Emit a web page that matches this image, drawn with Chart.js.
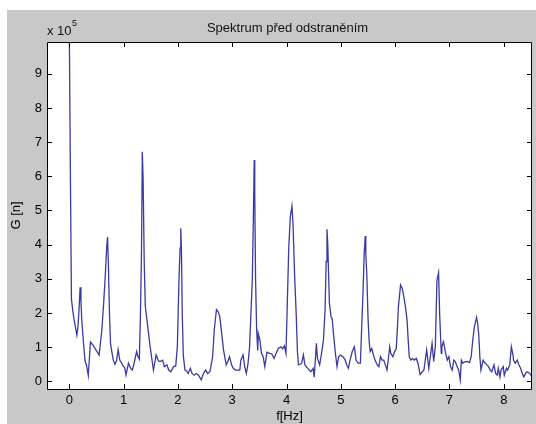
<!DOCTYPE html>
<html><head><meta charset="utf-8">
<script src="https://cdn.jsdelivr.net/npm/chart.js@4.4.1/dist/chart.umd.min.js"></script>
<style>html,body{margin:0;padding:0;background:#fff;}#wrap{width:536px;height:424px;position:relative}</style>
</head><body><div id="wrap"><canvas id="c" width="536" height="424"></canvas></div>
<script>
// Data (amplitude in units of 10^5)
const freqs = [0.00,0.02,0.04,0.07,0.10,0.14,0.16,0.18,0.20,0.215,0.23,0.26,0.29,0.32,0.35,0.39,0.44,0.50,0.55,0.60,0.63,0.66,0.69,0.705,0.72,0.74,0.76,0.79,0.81,0.84,0.87,0.90,0.93,0.96,0.99,1.02,1.045,1.09,1.13,1.16,1.19,1.24,1.26,1.29,1.31,1.33,1.345,1.36,1.38,1.40,1.43,1.49,1.55,1.60,1.64,1.67,1.72,1.75,1.80,1.83,1.87,1.92,1.96,1.99,2.02,2.04,2.053,2.065,2.08,2.10,2.13,2.16,2.19,2.23,2.26,2.30,2.34,2.38,2.43,2.47,2.51,2.55,2.59,2.64,2.67,2.71,2.74,2.77,2.80,2.84,2.89,2.92,2.95,2.99,3.02,3.06,3.10,3.14,3.16,3.20,3.23,3.26,3.29,3.32,3.34,3.37,3.39,3.405,3.415,3.43,3.45,3.47,3.48,3.51,3.54,3.57,3.60,3.64,3.69,3.73,3.77,3.81,3.85,3.90,3.93,3.96,3.99,4.01,4.04,4.07,4.10,4.12,4.15,4.18,4.20,4.22,4.25,4.28,4.31,4.34,4.39,4.42,4.45,4.49,4.51,4.55,4.57,4.61,4.65,4.68,4.71,4.73,4.745,4.76,4.79,4.82,4.84,4.87,4.90,4.93,4.96,4.99,5.04,5.08,5.11,5.14,5.17,5.21,5.25,5.28,5.32,5.36,5.38,5.41,5.43,5.45,5.46,5.48,5.50,5.52,5.54,5.57,5.60,5.63,5.67,5.70,5.73,5.76,5.79,5.82,5.85,5.88,5.90,5.92,5.96,5.99,6.02,6.04,6.06,6.10,6.13,6.16,6.19,6.22,6.24,6.26,6.29,6.32,6.35,6.39,6.42,6.46,6.53,6.58,6.62,6.68,6.71,6.74,6.77,6.80,6.82,6.85,6.86,6.89,6.93,6.96,6.99,7.02,7.05,7.08,7.11,7.14,7.17,7.20,7.22,7.25,7.28,7.33,7.37,7.40,7.43,7.46,7.50,7.52,7.54,7.56,7.58,7.62,7.65,7.69,7.72,7.75,7.78,7.82,7.85,7.88,7.90,7.93,7.95,7.99,8.01,8.05,8.07,8.11,8.14,8.17,8.18,8.21,8.25,8.28,8.31,8.34,8.37,8.40,8.43,8.48,8.52];
const ampsE5 = [10.5,6.2,2.4,2.0,1.7,1.35,1.6,2.1,2.75,2.35,1.8,1.15,0.6,0.45,0.17,1.15,1.05,0.9,0.77,1.5,2.2,3.0,3.95,4.22,3.45,2.0,1.1,0.8,0.62,0.5,0.6,0.93,0.62,0.55,0.45,0.4,0.18,0.53,0.38,0.33,0.5,0.87,0.75,0.65,1.9,3.8,6.72,5.9,3.5,2.2,1.8,1.0,0.33,0.77,0.6,0.58,0.62,0.43,0.48,0.33,0.28,0.43,0.45,1.0,2.96,3.9,4.48,3.9,2.0,0.75,0.33,0.3,0.23,0.38,0.23,0.18,0.23,0.18,0.04,0.23,0.33,0.23,0.28,0.72,1.5,2.1,2.04,1.9,1.5,0.92,0.48,0.58,0.72,0.48,0.38,0.33,0.33,0.33,0.62,0.77,0.43,0.23,0.5,1.0,1.8,2.96,4.8,6.48,5.5,3.0,1.5,0.9,1.4,1.2,0.82,0.72,0.43,0.85,0.82,0.8,0.67,0.82,0.97,1.01,0.95,1.04,0.82,1.99,3.84,4.82,5.13,4.6,3.06,1.9,0.9,0.48,0.5,0.53,0.77,0.48,0.38,0.33,0.28,0.38,0.12,1.11,0.67,0.48,0.87,1.21,2.08,3.5,4.45,3.99,2.28,1.89,1.84,1.3,0.82,0.43,0.72,0.77,0.72,0.62,0.48,0.38,0.62,0.87,1.01,0.62,0.53,0.53,1.4,2.67,3.74,4.25,3.74,3.06,1.89,1.21,0.87,0.96,0.77,0.62,0.48,0.43,0.72,0.62,0.62,0.48,0.33,0.72,1.01,0.82,0.72,0.87,0.96,1.5,2.18,2.82,2.72,2.48,2.18,1.79,1.21,0.72,0.62,0.67,0.62,0.67,0.53,0.2,0.33,0.92,0.38,1.11,0.58,1.01,2.96,3.18,1.94,0.82,1.01,1.16,0.82,0.62,0.72,0.43,0.33,0.62,0.57,0.43,0.33,0.04,0.62,0.53,0.57,0.58,0.55,0.72,1.21,1.6,1.87,1.7,1.36,0.72,0.33,0.62,0.55,0.48,0.43,0.33,0.28,0.48,0.23,0.18,0.38,0.13,0.33,0.43,0.18,0.38,0.33,0.48,1.01,0.77,0.62,0.53,0.62,0.48,0.38,0.23,0.13,0.23,0.28,0.23,0.13];
const xTicks = [0,1,2,3,4,5,6,7,8];
const yTicks = [0,1,2,3,4,5,6,7,8,9];
const xRange = [-0.41, 8.52];
const yRange = [-0.225, 9.93];
const titleText = 'Spektrum před odstraněním';
const xTitle = 'f[Hz]';
const yTitle = 'G [n]';
const multBase = 'x 10';
const multExp = '5';

const FONT = "'Liberation Sans', Arial, sans-serif";
Chart.defaults.font.family = FONT;
Chart.defaults.font.size = 13;
Chart.defaults.color = '#000';

const frame = {
  id: 'frame',
  beforeDraw(chart) {
    const {ctx, chartArea: a} = chart;
    ctx.save();
    ctx.fillStyle = '#fff';
    ctx.fillRect(0, 0, chart.width, chart.height);
    ctx.fillStyle = '#c8c8c8';
    ctx.fillRect(7, 10, chart.width - 7, chart.height - 10);
    ctx.fillStyle = '#fff';
    ctx.fillRect(a.left, a.top, a.right - a.left, a.bottom - a.top);
    ctx.restore();
  },
  afterDatasetsDraw(chart) {
    const {ctx, chartArea: a, scales} = chart;
    ctx.save();
    ctx.strokeStyle = '#000';
    ctx.lineWidth = 1;
    ctx.beginPath();
    ctx.rect(Math.round(a.left) + 0.5, Math.round(a.top) + 0.5, Math.round(a.right - a.left) - 1, Math.round(a.bottom - a.top));
    const tl = 5;
    scales.x.ticks.forEach(t => {
      const px = Math.round(scales.x.getPixelForValue(t.value)) + 0.5;
      ctx.moveTo(px, a.bottom); ctx.lineTo(px, a.bottom - tl);
      ctx.moveTo(px, a.top); ctx.lineTo(px, a.top + tl);
    });
    scales.y.ticks.forEach(t => {
      const py = Math.round(scales.y.getPixelForValue(t.value)) + 0.5;
      ctx.moveTo(a.left, py); ctx.lineTo(a.left + tl, py);
      ctx.moveTo(a.right, py); ctx.lineTo(a.right - tl, py);
    });
    ctx.stroke();
    ctx.fillStyle = '#111';
    ctx.font = '13px ' + FONT;
    ctx.textAlign = 'center';
    ctx.textBaseline = 'alphabetic';
    ctx.fillText(titleText, (a.left + a.right) / 2 - 2, 32);
    ctx.textAlign = 'left';
    ctx.fillText(multBase, a.left, 35);
    const w = ctx.measureText(multBase).width;
    ctx.font = '9px ' + FONT;
    ctx.fillText(multExp, a.left + w + 0.5, 26);
    ctx.restore();
  }
};

new Chart(document.getElementById('c'), {
  type: 'scatter',
  data: {
    datasets: [{
      data: freqs.map((f, i) => ({x: f, y: ampsE5[i]})),
      showLine: true,
      borderColor: '#3a3aa2',
      borderWidth: 1.3,
      pointRadius: 0,
      tension: 0,
      fill: false
    }]
  },
  options: {
    responsive: false,
    animation: false,
    devicePixelRatio: 1,
    layout: {padding: {left: 7, top: 42, right: 4, bottom: 0}},
    plugins: {legend: {display: false}, tooltip: {enabled: false}, title: {display: false}},
    scales: {
      x: {
        type: 'linear', position: 'bottom',
        min: xRange[0], max: xRange[1],
        grid: {display: false, drawTicks: false}, border: {display: false},
        ticks: {padding: 4, maxRotation: 0, autoSkip: false, color: '#000', callback: v => String(v)},
        afterBuildTicks: s => { s.ticks = xTicks.map(v => ({value: v})); },
        afterFit: s => { s.height = 35; },
        title: {display: true, text: xTitle, color: '#000', padding: {top: 0, bottom: 0}}
      },
      y: {
        type: 'linear', position: 'left',
        min: yRange[0], max: yRange[1],
        grid: {display: false, drawTicks: false}, border: {display: false},
        ticks: {padding: 5, color: '#000', callback: v => String(v)},
        afterBuildTicks: s => { s.ticks = yTicks.map(v => ({value: v})); },
        afterFit: s => { s.width = 40; },
        title: {display: true, text: yTitle, color: '#000', padding: {top: 2, bottom: 0}}
      }
    }
  },
  plugins: [frame]
});
</script></body></html>
